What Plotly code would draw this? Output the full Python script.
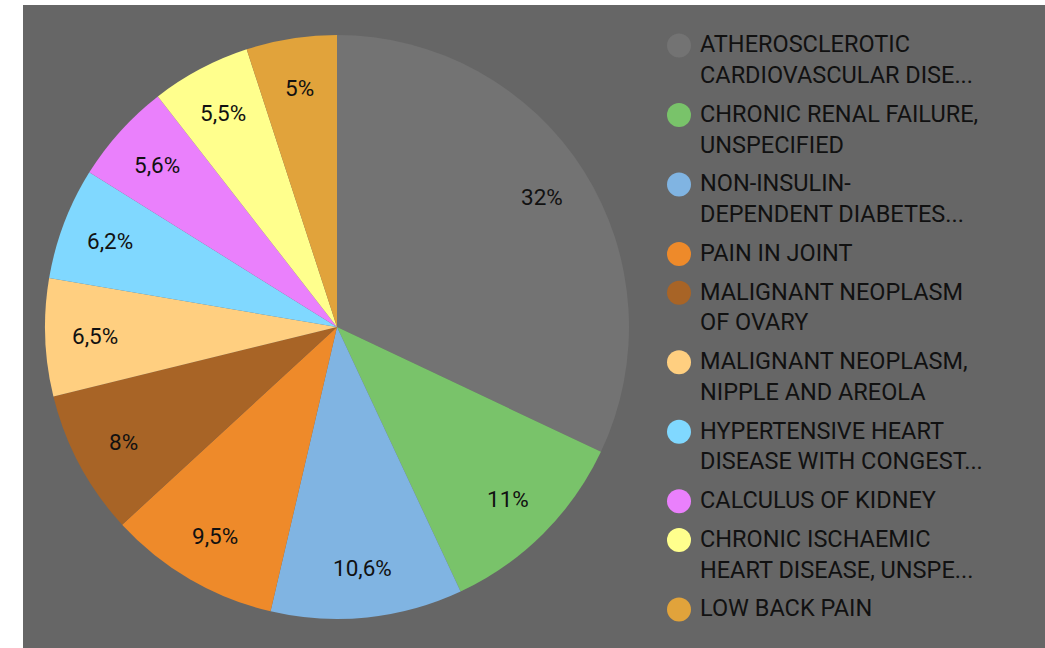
import math
import plotly.graph_objects as go

labels = [
    "ATHEROSCLEROTIC<br>CARDIOVASCULAR DISE...",
    "CHRONIC RENAL FAILURE,<br>UNSPECIFIED",
    "NON-INSULIN-<br>DEPENDENT DIABETES...",
    "PAIN IN JOINT",
    "MALIGNANT NEOPLASM<br>OF OVARY",
    "MALIGNANT NEOPLASM,<br>NIPPLE AND AREOLA",
    "HYPERTENSIVE HEART<br>DISEASE WITH CONGEST...",
    "CALCULUS OF KIDNEY",
    "CHRONIC ISCHAEMIC<br>HEART DISEASE, UNSPE...",
    "LOW BACK PAIN",
]
values = [32, 11, 10.6, 9.5, 8, 6.5, 6.2, 5.6, 5.5, 5]
colors = ["#737373", "#79c36a", "#80b4e2", "#ee8a2a", "#a86426",
          "#ffcf80", "#80d8ff", "#ea80fc", "#ffff8d", "#e1a33b"]

FONT = "Roboto"
W, H = 1045, 648
ML, MT = 23, 5
PW, PH = W - ML, H - MT

# pie box in pixels (plot-area coords, y downwards)
PX0, PX1 = 22, 606
PY0, PY1 = 30, 614
cx, cy, R = (PX0 + PX1) / 2, (PY0 + PY1) / 2, (PX1 - PX0) / 2

texts = [f"{v:g}".replace(".", ",") + "%" for v in values]

fig = go.Figure()
fig.add_trace(go.Pie(
    labels=labels, values=values, textinfo="none",
    sort=False, direction="clockwise", rotation=0,
    marker=dict(colors=colors, line=dict(width=0)),
    domain=dict(x=[PX0 / PW, PX1 / PW], y=[1 - PY1 / PH, 1 - PY0 / PH]),
    showlegend=False, hoverinfo="label+percent",
))

# slice labels at ~83% of the radius, on each slice's bisector
total = sum(values)
cum = 0
for v, t in zip(values, texts):
    ang = 2 * math.pi * (cum + v / 2) / total
    cum += v
    fig.add_annotation(
        x=cx + 0.83 * R * math.sin(ang), y=cy - 0.83 * R * math.cos(ang),
        xref="x", yref="y", text=t, showarrow=False,
        font=dict(family=FONT, size=22.5, color="#111111"),
    )

# custom legend: big round markers with wrapped labels, laid out in pixel units
line_h, gap = 30.8, 7.9
mark_y, text_y, text_s = [], [], []
y = 40.5
for name in labels:
    parts = name.split("<br>")
    mark_y.append(y)
    for i, p in enumerate(parts):
        text_y.append(y + i * line_h)
        text_s.append(p)
    y += len(parts) * line_h + gap

fig.add_trace(go.Scatter(
    x=[679 - ML] * len(labels), y=mark_y, mode="markers",
    marker=dict(size=24, color=colors, line=dict(width=0)),
    showlegend=False, hoverinfo="skip",
))
fig.add_trace(go.Scatter(
    x=[700 - ML] * len(text_s), y=[v + 1 for v in text_y], mode="text", text=text_s,
    textposition="middle right",
    textfont=dict(family=FONT, size=23.5, color="#111111"),
    showlegend=False, hoverinfo="skip",
))

fig.update_layout(
    width=W, height=H,
    margin=dict(l=ML, r=0, t=MT, b=0),
    paper_bgcolor="white", plot_bgcolor="#666666",
    xaxis=dict(range=[0, PW], visible=False, fixedrange=True),
    yaxis=dict(range=[PH, 0], visible=False, fixedrange=True),
    font=dict(family=FONT),
)

fig.write_html("out.html", config={"displayModeBar": False},
               post_script="document.body.style.margin='0';")
